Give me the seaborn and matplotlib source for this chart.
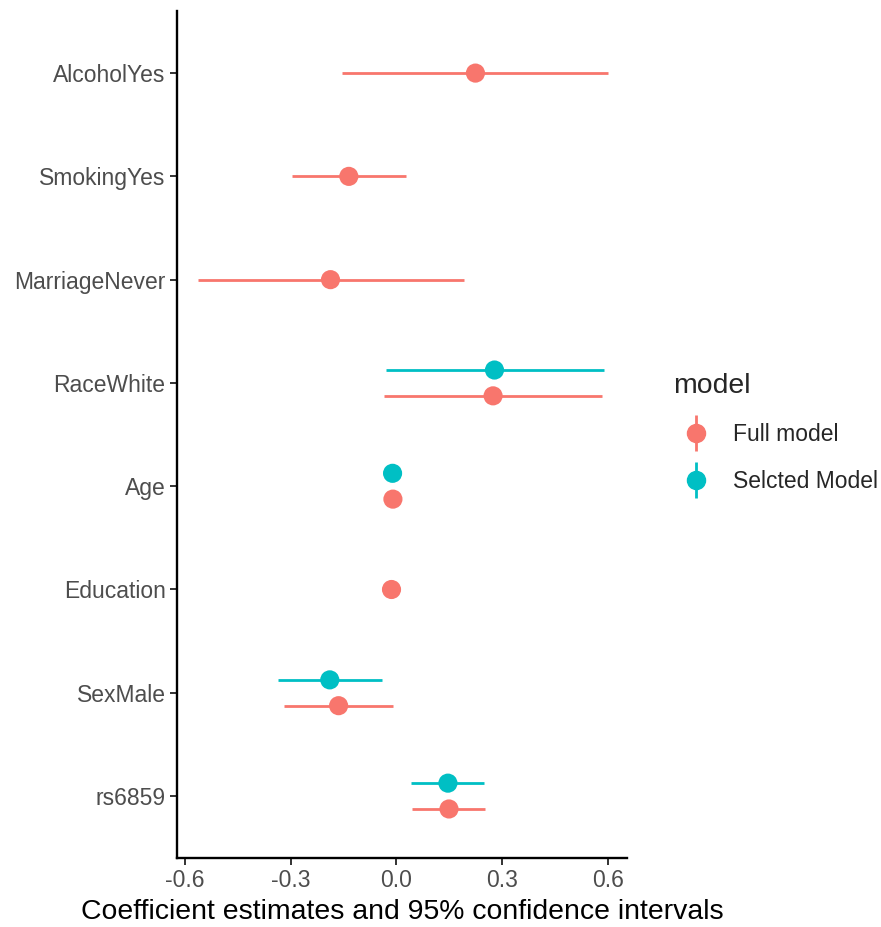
import matplotlib
matplotlib.use("Agg")
import matplotlib.pyplot as plt
from matplotlib.lines import Line2D
from matplotlib.legend_handler import HandlerTuple
import seaborn as sns
import pandas as pd
import numpy as np

# ---- data ----
terms = ["rs6859", "SexMale", "Education", "Age", "RaceWhite",
         "MarriageNever", "SmokingYes", "AlcoholYes"]  # bottom -> top

full_terms = ["AlcoholYes", "SmokingYes", "MarriageNever", "RaceWhite",
              "Age", "Education", "SexMale", "rs6859"]
full_est = [0.224, -0.135, -0.187, 0.274, -0.010, -0.014, -0.164, 0.149]
full_lo = [-0.154, -0.296, -0.562, -0.036, -0.014, -0.018, -0.318, 0.044]
full_hi = [0.600, 0.027, 0.191, 0.583, -0.006, -0.010, -0.011, 0.251]

sel_terms = ["RaceWhite", "Age", "SexMale", "rs6859"]
sel_est = [0.278, -0.011, -0.189, 0.146]
sel_lo = [-0.030, -0.015, -0.337, 0.042]
sel_hi = [0.588, -0.007, -0.042, 0.248]

models = ["Full model", "Selcted Model"]
colors = {"Full model": "#F8766D", "Selcted Model": "#00BFC4"}

df = pd.concat([
    pd.DataFrame({"term": full_terms, "est": full_est, "lo": full_lo,
                  "hi": full_hi, "model": models[0]}),
    pd.DataFrame({"term": sel_terms, "est": sel_est, "lo": sel_lo,
                  "hi": sel_hi, "model": models[1]}),
], ignore_index=True)

# dodge like ggplot position_dodge: centre single groups
counts = df.groupby("term")["model"].transform("count")
base = df["term"].map({t: i + 1 for i, t in enumerate(terms)})
off = np.where(counts > 1, np.where(df["model"] == models[0], -0.125, 0.125), 0.0)
df["y"] = base + off

# ---- figure ----
sns.set_theme(style="ticks")
plt.rcParams["font.family"] = ["Liberation Sans", "DejaVu Sans"]

fig = plt.figure(figsize=(8.81, 9.27), dpi=100)
ax = fig.add_axes([0.2006, 0.0744, 0.7122 - 0.2006, 0.988 - 0.0744])

for m in models:
    sub = df[df["model"] == m]
    ax.hlines(sub["y"], sub["lo"], sub["hi"], color=colors[m], lw=2.0, zorder=2)

sns.scatterplot(data=df, x="est", y="y", hue="model", hue_order=models,
                palette=colors, s=190, linewidth=0, ax=ax, legend=False,
                zorder=3)

ax.set_xlim(-0.623, 0.655)
ax.set_ylim(0.4, 8.6)
ax.set_xticks([-0.6, -0.3, 0.0, 0.3, 0.6])
ax.set_xticklabels(["-0.6", "-0.3", "0.0", "0.3", "0.6"])
ax.set_yticks(range(1, len(terms) + 1))
ax.set_yticklabels(terms)
ax.set_xlabel("Coefficient estimates and 95% confidence intervals",
              fontsize=20.4, color="black", labelpad=5)
ax.set_ylabel("")

for s in ["top", "right"]:
    ax.spines[s].set_visible(False)
for s in ["left", "bottom"]:
    ax.spines[s].set_linewidth(1.7)
    ax.spines[s].set_color("black")
ax.tick_params(axis="both", labelsize=16.5, labelcolor="#4D4D4D",
               color="#333333", length=5, width=1.4, pad=3)

# legend: pointrange glyphs (vertical line with dot on top)
handles = []
for m in models:
    vline = Line2D([], [], color=colors[m], marker="|", markersize=26,
                   markeredgewidth=2.0, linestyle="none")
    dot = Line2D([], [], color=colors[m], marker="o", markersize=13,
                 linestyle="none")
    handles.append((vline, dot))
leg = fig.legend(handles, models, handler_map={tuple: HandlerTuple(ndivide=1)},
                 title="model", loc="center left", bbox_to_anchor=(0.764, 0.533),
                 frameon=False, fontsize=16.5, title_fontsize=20.4,
                 handlelength=2.0, handletextpad=0.6, labelspacing=1.05,
                 borderaxespad=0, borderpad=0)
leg._legend_box.align = "left"

fig.savefig("out.png", dpi=100)
